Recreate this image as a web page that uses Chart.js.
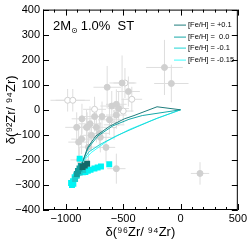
<!DOCTYPE html>
<html>
<head>
<meta charset="utf-8">
<script src="https://cdn.jsdelivr.net/npm/chart.js@4"></script>
<style>
  html, body { margin: 0; padding: 0; background: #fff; }
  #wrap { width: 249px; height: 240px; }
</style>
</head>
<body>
<div id="wrap"><canvas id="zrChart"></canvas></div>
<script>
// grey measured grains: position, errors, open symbol flag
const greyX    = [-140, -80, -985, -940, -640, -510, -485, -455, -425, -600, -560, -540, -750, -750, -685, -860, -790, -815, -560, -500, -620, -906, -820, -734, -863, -777, -708, -803, -889, -880, -560, 170, -700, -650, -580];
const greyY    = [169, 105, 38, 38, 90, 107, 107, 73, 42, 15, 22, 5, 2, -27, -27, -36, -56, -70, -21, -5, -40, -70, -70, -70, -117, -102, -94, -149, -129, -200, -235, -254, -110, -150, -60];
const greyXErr = [160, 150, 150, 150, 120, 110, 100, 100, 90, 100, 90, 90, 100, 100, 100, 90, 100, 100, 90, 90, 100, 100, 90, 100, 90, 100, 90, 90, 90, 80, 80, 80, 100, 80, 90];
const greyYErr = [110, 75, 45, 45, 85, 110, 60, 60, 50, 60, 60, 70, 50, 60, 60, 60, 70, 60, 55, 50, 60, 60, 70, 60, 60, 60, 60, 60, 60, 50, 60, 45, 60, 60, 60];
const greyOpen = [false, false, true, true, false, false, true, false, true, false, false, false, true, false, false, false, false, false, false, true, false, false, false, false, false, false, false, false, false, false, false, false, false, false, true];

// model tracks, one per metallicity
const fehLabels = ['[Fe/H] = +0.1', '[Fe/H] =  0.0', '[Fe/H] = -0.1', '[Fe/H] = -0.15'];
const trackX_p01 = [-860, -810, -740, -620, -490, -406, -205, 0];
const trackY_p01 = [-215, -150, -105, -66, -36, -23, 12, 0];
const trackX_000 = [-865, -805, -720, -590, -450, -334, 0];
const trackY_000 = [-218, -152, -104, -64, -38, -23, 0];
const trackX_m01 = [-870, -800, -708, -560, -380, -200, 0];
const trackY_m01 = [-218, -168, -140, -104, -68, -33, 0];
const trackX_m015 = [-875, -780, -640, -449, -250, 0];
const trackY_m015 = [-220, -171, -125, -79, -42, 0];

// final surface compositions (squares)
const sqX_p01 = [-815, -835, -855];
const sqY_p01 = [-215, -222, -228];
const sqX_000 = [-870, -882, -895, -905];
const sqY_000 = [-224, -234, -244, -256];
const sqX_m01 = [-850, -880, -905, -920, -865];
const sqY_m01 = [-240, -250, -262, -276, -232];
const sqX_m015 = [-880, -785, -751, -723, -694, -622, -809, -830, -852, -895, -910, -924, -938, -947, -935, -955];
const sqY_m015 = [-195, -239, -234, -230, -226, -217, -243, -248, -249, -250, -262, -269, -285, -300, -295, -292];

const xTickValues = [-1000, -500, 0, 500];
const trackColors = ['#1f7d7d', '#17a8a8', '#1fd6d6', '#3dffff'];
const squareColors = ['#136868', '#119c9c', '#1ccccc', '#00f4f4'];

function pts(xs, ys) { return xs.map((x, i) => ({ x: x, y: ys[i] })); }
function minusSign(v) { return String(v).replace('-', '\u2212'); }

const greyPts = pts(greyX, greyY);
const greyFilled = greyPts.filter((p, i) => !greyOpen[i]);
const greyOpened = greyPts.filter((p, i) => greyOpen[i]);

const trackSets = [[trackX_p01, trackY_p01], [trackX_000, trackY_000], [trackX_m01, trackY_m01], [trackX_m015, trackY_m015]];
const squareSets = [[sqX_p01, sqY_p01], [sqX_000, sqY_000], [sqX_m01, sqY_m01], [sqX_m015, sqY_m015]];

const datasets = [];
squareSets.forEach((s, i) => {
  datasets.push({
    label: 'sq' + i, data: pts(s[0], s[1]), showLine: false, order: 0,
    pointStyle: 'rect', pointRadius: 4.2, backgroundColor: squareColors[i], borderColor: squareColors[i], borderWidth: 0
  });
});
trackSets.forEach((s, i) => {
  datasets.push({
    label: fehLabels[i], data: pts(s[0], s[1]), showLine: true, order: 1,
    pointRadius: 0, borderColor: trackColors[i], borderWidth: 1, tension: 0
  });
});
datasets.push({
  label: 'grains', data: greyFilled, showLine: false, order: 2,
  pointRadius: 3, backgroundColor: '#d0d0d0', borderColor: '#d0d0d0', borderWidth: 1
});
datasets.push({
  label: 'grains open', data: greyOpened, showLine: false, order: 2,
  pointRadius: 3, backgroundColor: '#ffffff', borderColor: '#d0d0d0', borderWidth: 1
});

const errorBars = {
  id: 'errorBars',
  beforeDatasetsDraw(chart) {
    const c = chart.ctx, xs = chart.scales.x, ys = chart.scales.y;
    c.save();
    c.strokeStyle = '#dedede';
    c.lineWidth = 1;
    greyX.forEach((x, i) => {
      const px = xs.getPixelForValue(x), py = ys.getPixelForValue(greyY[i]);
      c.beginPath();
      c.moveTo(xs.getPixelForValue(x - greyXErr[i]), py);
      c.lineTo(xs.getPixelForValue(x + greyXErr[i]), py);
      c.moveTo(px, ys.getPixelForValue(greyY[i] - greyYErr[i]));
      c.lineTo(px, ys.getPixelForValue(greyY[i] + greyYErr[i]));
      c.stroke();
    });
    c.restore();
  }
};

const frameAndText = {
  id: 'frameAndText',
  afterDraw(chart) {
    const c = chart.ctx, a = chart.chartArea, xs = chart.scales.x, ys = chart.scales.y;
    c.save();
    c.strokeStyle = '#000';
    c.lineWidth = 1;
    c.strokeRect(a.left + 0.5, a.top + 0.5, a.right - a.left - 1, a.bottom - a.top - 1);
    c.beginPath();
    for (let v = -1200; v <= 500; v += 100) {
      const px = Math.round(xs.getPixelForValue(v)) + 0.5;
      const len = v % 500 === 0 ? 6 : 3;
      c.moveTo(px, a.bottom); c.lineTo(px, a.bottom - len);
      c.moveTo(px, a.top); c.lineTo(px, a.top + len);
    }
    for (let v = -400; v <= 400; v += 100) {
      const py = Math.round(ys.getPixelForValue(v)) + 0.5;
      c.moveTo(a.left, py); c.lineTo(a.left + 6, py);
      c.moveTo(a.right, py); c.lineTo(a.right - 6, py);
    }
    c.stroke();

    // model label
    c.fillStyle = '#000';
    c.textBaseline = 'alphabetic';
    c.font = '13px "Liberation Sans", Arial, sans-serif';
    let tx = a.left + 10;
    const ty = a.top + 20;
    c.fillText('2M', tx, ty);
    tx += c.measureText('2M').width;
    c.font = '8px "DejaVu Sans", sans-serif';
    c.fillText('\u2299', tx, ty + 3);
    tx += c.measureText('\u2299').width + 3;
    c.font = '13px "Liberation Sans", Arial, sans-serif';
    c.fillText('1.0%  ST', tx, ty);

    // legend
    c.font = '7.5px "Liberation Sans", Arial, sans-serif';
    c.textBaseline = 'middle';
    const rows = [a.top + 15, a.top + 27, a.top + 38, a.top + 50];
    fehLabels.forEach((lab, i) => {
      c.strokeStyle = trackColors[i];
      c.beginPath();
      c.moveTo(a.left + 131, rows[i] + 0.5); c.lineTo(a.left + 143, rows[i] + 0.5);
      c.stroke();
      c.fillStyle = '#000';
      c.fillText(lab, a.left + 145, rows[i]);
    });
    c.restore();
  }
};

const ctx = document.getElementById('zrChart');
new Chart(ctx, {
  type: 'scatter',
  data: { datasets: datasets },
  options: {
    responsive: true,
    maintainAspectRatio: false,
    animation: false,
    layout: { padding: { top: 6, right: 9, left: 0, bottom: 0 } },
    plugins: { legend: { display: false }, tooltip: { enabled: false } },
    scales: {
      x: {
        type: 'linear', min: -1200, max: 500,
        grid: { display: false, drawTicks: false, tickLength: 0 }, border: { display: false },
        afterBuildTicks: (axis) => { axis.ticks = xTickValues.map(v => ({ value: v })); },
        afterFit: (scale) => { scale.height = 30; },
        ticks: { color: '#000', padding: 2, maxRotation: 0, font: { family: '"Liberation Sans", Arial, sans-serif', size: 11 }, callback: minusSign },
        title: { display: true, text: '\u03b4(\u2079\u2076Zr/ \u2079\u2074Zr)', color: '#000', padding: { top: 0, bottom: 0 }, font: { family: '"Liberation Sans", Arial, sans-serif', size: 13 } }
      },
      y: {
        type: 'linear', min: -400, max: 400,
        grid: { display: false, drawTicks: false, tickLength: 0 }, border: { display: false },
        afterFit: (scale) => { scale.width = 43; },
        ticks: { stepSize: 100, color: '#000', padding: 3, font: { family: '"Liberation Sans", Arial, sans-serif', size: 11 }, callback: minusSign },
        title: { display: true, text: '\u03b4(\u2079\u00b2Zr/ \u2079\u2074Zr)', color: '#000', padding: { top: 4, bottom: 0 }, font: { family: '"Liberation Sans", Arial, sans-serif', size: 13 } }
      }
    }
  },
  plugins: [errorBars, frameAndText]
});
</script>
</body>
</html>
